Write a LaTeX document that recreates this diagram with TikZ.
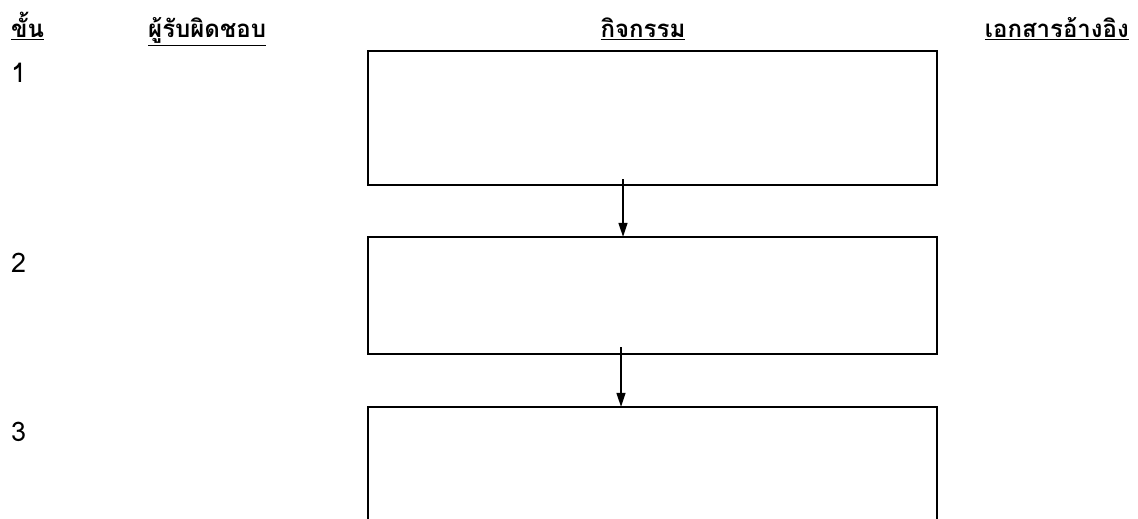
\documentclass[tikz,border=0pt]{standalone}
\usepackage{fontspec}
\newfontfamily\thaifont[Script=Thai]{Loma}
\usetikzlibrary{arrows.meta}
\begin{document}
\begin{tikzpicture}[x=1pt,y=-1pt,
  stepbox/.style={draw=black,line width=2pt},
  head/.style={inner sep=0pt,anchor=base west,font=\thaifont\bfseries\fontsize{24}{28}\selectfont},
  num/.style={inner sep=0pt,anchor=base west,font=\thaifont\fontsize{27}{30}\selectfont},
  flow/.style={line width=1.3pt,-{Triangle[length=14pt,width=9pt]}}]
\useasboundingbox (0,0) rectangle (1138,519);
\clip (0,0) rectangle (1138,519);
% headers
\node[head] (h1) at (11,38) {\underline{ขั้น}};
\node[head] (h2) at (148,38) {\underline{ผู้รับผิดชอบ}};
\node[head,anchor=base] (h3) at (643,38) {\underline{กิจกรรม}};
\node[head,anchor=base east] (h4) at (1129,38) {\underline{เอกสารอ้างอิง}};
% step numbers
\node[num] (n1) at (11,83) {1};
\node[num] (n2) at (11,272) {2};
\node[num] (n3) at (11,441) {3};
% boxes
\draw[stepbox] (368,51) rectangle (937,185);
\node[inner sep=0pt,minimum width=569pt,minimum height=134pt] (b1) at (652.5,118) {};
\draw[stepbox] (368,237) rectangle (937,354);
\node[inner sep=0pt,minimum width=569pt,minimum height=117pt] (b2) at (652.5,295.5) {};
\draw[stepbox] (368,407) rectangle (937,560);
\node[inner sep=0pt,minimum width=569pt,minimum height=153pt] (b3) at (652.5,483.5) {};
% connectors
\coordinate (a1s) at ([xshift=-29.5pt,yshift=6pt]b1.south);
\coordinate (a1e) at ([xshift=-29.5pt]b2.north);
\coordinate (a2s) at ([xshift=-31.5pt,yshift=7pt]b2.south);
\coordinate (a2e) at ([xshift=-31.5pt]b3.north);
\draw[flow] (a1s) -- (a1e);
\draw[flow] (a2s) -- (a2e);
\end{tikzpicture}
\end{document}
